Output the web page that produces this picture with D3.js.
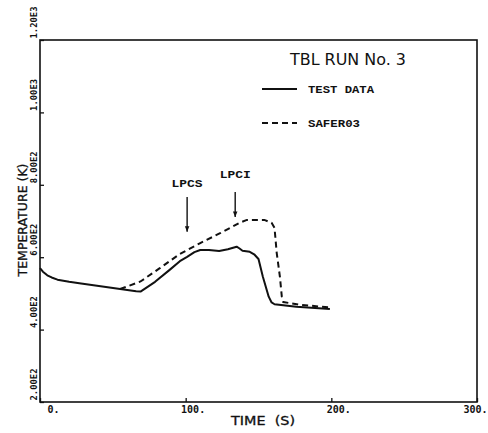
<!DOCTYPE html>
<html><head><meta charset="utf-8">
<script src="https://cdn.jsdelivr.net/npm/d3@7"></script>
<style>
html,body{margin:0;padding:0;background:#fff;}
svg{display:block;}
</style></head>
<body>
<script>
// ---- data ----
const testTime = [0, 2, 5, 8, 12, 20, 27, 55, 66, 69, 79, 89, 96, 101, 106, 110, 116, 123, 129, 135, 137, 139, 144, 147, 150, 153, 157, 159, 161, 176, 199];
const testTemp = [570, 560, 550, 544, 538, 532, 528, 512, 506, 505, 532, 565, 589, 601, 614, 620, 620, 617, 622, 629, 624, 618, 615, 608, 595, 546, 491, 475, 470, 463, 457];
const saferTime = [55, 69, 82, 96, 110, 124, 137, 142, 154, 159, 161, 162.5, 164.7, 166, 167, 178, 199];
const saferTemp = [512, 533, 569, 609, 639, 667, 695, 703, 703, 695, 681, 612, 546, 491, 476, 469, 461];
const xTicks = [0, 100, 200, 300];
const xTickLabels = ["0.", "100.", "200.", "300."];
const yTicks = [200, 400, 600, 800, 1000, 1200];
const yTickLabels = ["2.00E2", "4.00E2", "6.00E2", "8.00E2", "1.00E3", "1.20E3"];
const seriesNames = ["TEST DATA", "SAFER03"];
const annotLabels = ["LPCS", "LPCI"];
const annotTime = [101, 134];
const annotFrom = [766, 780];
const annotTo = [670, 711];
const annotText = [794, 819];
const titleText = "TBL RUN No. 3";
const xTitle = "TIME  (S)";
const yTitle = "TEMPERATURE (K)";

// ---- drawing ----
const W = 488, H = 433;
const svg = d3.select("body").append("svg").attr("width", W).attr("height", H);
const x = d3.scaleLinear().domain([0, 300]).range([40, 477]);
const y = d3.scaleLinear().domain([200, 1200]).range([402, 40]);
const ink = "#111";

svg.append("defs").append("marker")
  .attr("id", "ah").attr("viewBox", "0 0 10 10").attr("refX", 10).attr("refY", 5)
  .attr("markerWidth", 4).attr("markerHeight", 6).attr("orient", "auto")
  .append("path").attr("d", "M0,1 L10,5 L0,9 z").attr("fill", ink);

// frame
svg.append("rect").attr("x", x(0)).attr("y", y(1200))
  .attr("width", x(300) - x(0)).attr("height", y(200) - y(1200))
  .attr("fill", "none").attr("stroke", ink).attr("stroke-width", 1.6);

// x axis
const xAxis = d3.axisBottom(x).tickValues(xTicks).tickSizeInner(-4).tickSizeOuter(0)
  .tickFormat((d, i) => xTickLabels[i]);
const gx = svg.append("g").attr("transform", `translate(0,${y(200)})`).call(xAxis);
gx.select(".domain").remove();
gx.selectAll("line").attr("stroke", ink).attr("stroke-width", 1.3);
gx.selectAll("text").attr("font-family", "'DejaVu Sans Mono', monospace").attr("font-weight", "bold")
  .attr("font-size", 10).attr("fill", ink).attr("text-anchor", "end")
  .attr("x", d => d === 300 ? 10 : 19).attr("y", 4).attr("dy", "0.71em");

// y axis
const yAxis = d3.axisLeft(y).tickValues(yTicks).tickSizeInner(-4).tickSizeOuter(0)
  .tickFormat((d, i) => yTickLabels[i]);
const gy = svg.append("g").attr("transform", `translate(${x(0)},0)`).call(yAxis);
gy.select(".domain").remove();
gy.selectAll("line").attr("stroke", ink).attr("stroke-width", 1.3);
gy.selectAll("text")
  .attr("font-family", "'DejaVu Sans Mono', monospace").attr("font-weight", "bold")
  .attr("font-size", 9.5).attr("fill", ink).attr("text-anchor", "start")
  .attr("x", null).attr("dy", null)
  .attr("transform", "translate(-3,-2) rotate(-90)")
  .attr("textLength", 32).attr("lengthAdjust", "spacingAndGlyphs");

// axis titles
svg.append("text").attr("x", 263).attr("y", 425).attr("text-anchor", "middle")
  .attr("font-family", "'DejaVu Sans', sans-serif").attr("font-size", 12).attr("fill", ink)
  .attr("stroke", ink).attr("stroke-width", 0.3)
  .attr("textLength", 64).attr("lengthAdjust", "spacingAndGlyphs")
  .style("white-space", "pre").text(xTitle);
svg.append("text").attr("transform", "translate(27,220) rotate(-90)").attr("text-anchor", "middle")
  .attr("font-family", "'DejaVu Sans', sans-serif").attr("font-size", 12.5).attr("fill", ink)
  .attr("stroke", ink).attr("stroke-width", 0.3)
  .attr("textLength", 113).attr("lengthAdjust", "spacingAndGlyphs").text(yTitle);

// lines
const line = d3.line().x(d => x(d[0])).y(d => y(d[1])).curve(d3.curveLinear);
const testPts = testTime.map((t, i) => [t, testTemp[i]]);
const saferPts = saferTime.map((t, i) => [t, saferTemp[i]]);
svg.append("path").datum(testPts).attr("d", line).attr("fill", "none")
  .attr("stroke", ink).attr("stroke-width", 2).attr("stroke-linejoin", "round");
svg.append("path").datum(saferPts).attr("d", line).attr("fill", "none")
  .attr("stroke", ink).attr("stroke-width", 2).attr("stroke-dasharray", "6,4");

// annotations
annotLabels.forEach((lab, i) => {
  svg.append("line").attr("x1", x(annotTime[i])).attr("x2", x(annotTime[i]))
    .attr("y1", y(annotFrom[i])).attr("y2", y(annotTo[i]))
    .attr("stroke", ink).attr("stroke-width", 1.4).attr("marker-end", "url(#ah)");
  svg.append("text").attr("x", x(annotTime[i])).attr("y", y(annotText[i]))
    .attr("text-anchor", "middle").attr("font-family", "'Liberation Mono', monospace")
    .attr("font-weight", "bold").attr("font-size", 11).attr("fill", ink)
    .attr("textLength", 31).attr("lengthAdjust", "spacingAndGlyphs").text(lab);
});

// title & legend
svg.append("text").attr("x", 290).attr("y", 65)
  .attr("font-family", "'DejaVu Sans', sans-serif").attr("font-size", 16).attr("fill", ink)
  .attr("textLength", 116).attr("lengthAdjust", "spacingAndGlyphs").text(titleText);
const legY = [89, 123];
seriesNames.forEach((n, i) => {
  svg.append("line").attr("x1", 262).attr("x2", 297).attr("y1", legY[i]).attr("y2", legY[i])
    .attr("stroke", ink).attr("stroke-width", 2)
    .attr("stroke-dasharray", i === 1 ? "6,4" : null);
  svg.append("text").attr("x", 308).attr("y", legY[i] + 4)
    .attr("font-family", "'Liberation Mono', monospace").attr("font-weight", "bold")
    .attr("font-size", 10).attr("fill", ink)
    .attr("textLength", i === 0 ? 66 : 52).attr("lengthAdjust", "spacingAndGlyphs").text(n);
});
</script>
</body></html>
